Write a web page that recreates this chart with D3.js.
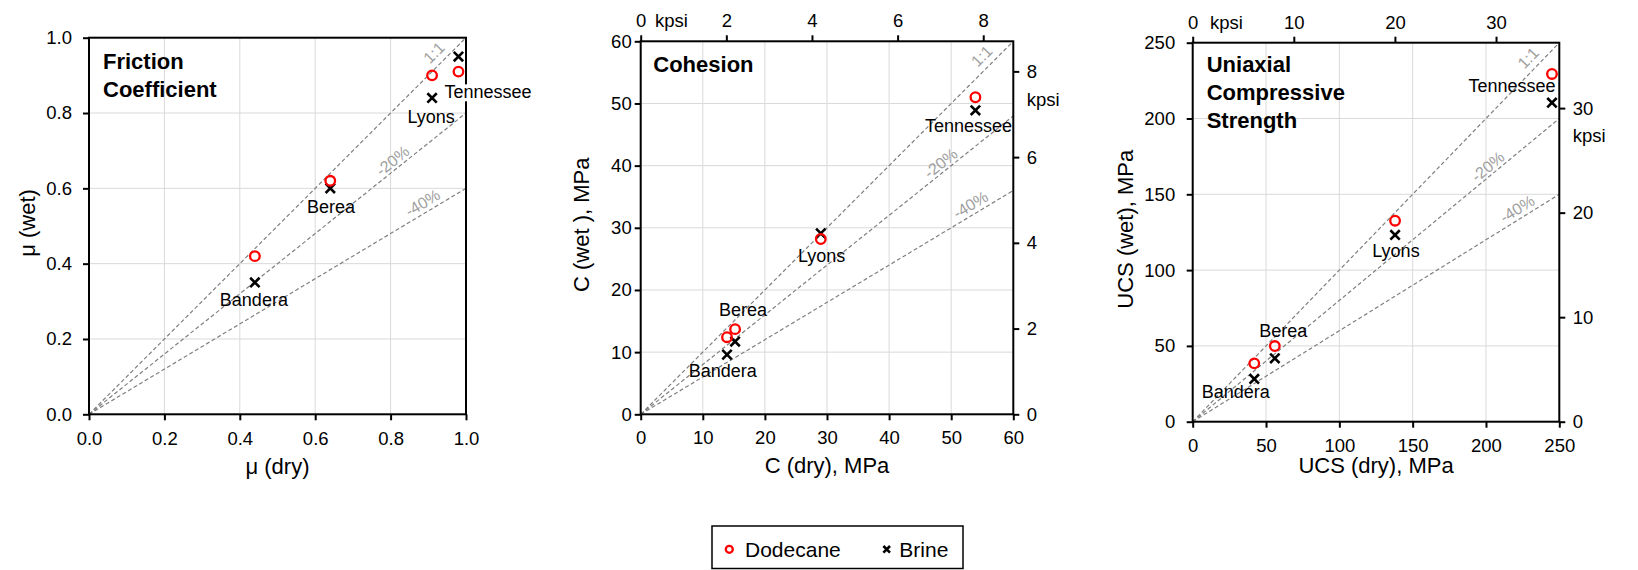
<!DOCTYPE html>
<html>
<head>
<meta charset="utf-8">
<script src="https://cdn.jsdelivr.net/npm/d3@7"></script>
<style>
    body { margin: 0; background: #fff; }
    text { font-family: "Liberation Sans", Arial, sans-serif; fill: #000; }
    .grid line { stroke: #d9d9d9; stroke-width: 1; }
    .axis path { display: none; }
    .axis line { stroke: #000; stroke-width: 2; }
    .axis text { font-size: 18.5px; }
    .frame { fill: none; stroke: #000; stroke-width: 2; }
    .refLine { stroke: #808080; stroke-width: 1.2; stroke-dasharray: 4,2.5; fill: none; }
    .refLabel { font-size: 16px; fill: #a0a0a0; }
    .axisTitle { font-size: 22px; }
    .panelTitle { font-size: 22px; font-weight: bold; }
    .rockLabel { font-size: 18px; }
    .unitLabel { font-size: 18.5px; }
    .dodecane { fill: none; stroke: #ff0000; stroke-width: 2.3; }
    .brine { fill: none; stroke: #000; stroke-width: 2.6; }
    .legendBox { fill: #fff; stroke: #000; stroke-width: 1.5; }
    .legendText { font-size: 21px; }
</style>
</head>
<body>
<script>
//rock names, same order as every value array below
var rocks = ["Bandera", "Berea", "Lyons", "Tennessee"];
var seriesNames = ["Dodecane", "Brine"];

//friction coefficient (dimensionless)
var frictionDry = [0.44, 0.64, 0.91, 0.98];
var frictionDodecane = [0.42, 0.62, 0.90, 0.91];
var frictionBrine = [0.35, 0.60, 0.84, 0.95];
var frictionTicks = [0, 0.2, 0.4, 0.6, 0.8, 1.0];

//cohesion, MPa
var cohesionDry = [13.9, 15.2, 29.0, 53.9];
var cohesionDodecane = [12.4, 13.7, 28.2, 51.0];
var cohesionBrine = [9.6, 11.7, 29.1, 48.9];
var cohesionTicks = [0, 10, 20, 30, 40, 50, 60];
var cohesionKpsiTicks = [0, 2, 4, 6, 8];

//uniaxial compressive strength, MPa
var ucsDry = [42, 56, 138, 245];
var ucsDodecane = [38.5, 49.9, 132.6, 229.4];
var ucsBrine = [28.2, 41.8, 123.2, 210.4];
var ucsTicks = [0, 50, 100, 150, 200, 250];
var ucsKpsiTicks = [0, 10, 20, 30];

//reference lines: wet = ratio * dry
var refRatios = [1, 0.8, 0.6];
var refNames = ["1:1", "-20%", "-40%"];

var mpaPerKpsi = 6.895;

(function(){

    //layout for the three panels
    var panels = [
        {
            left: 89, right: 466, top: 37.7, bottom: 414.3,
            dry: frictionDry, dod: frictionDodecane, brine: frictionBrine,
            ticks: frictionTicks, fmt: d3.format(".1f"), kpsiTicks: null,
            title: ["Friction", "Coefficient"], titleDx: 14, titleDy: 31.5,
            xTitle: "\u03bc (dry)", yTitle: "\u03bc (wet)",
            padLeft: 11, padBottom: 12, xTitleDy: 52, yTitleDx: -62,
            labels: [[-1, 23.5, "middle"], [0.7, 25, "middle"], [-1, 24.7, "middle"], [-14, 41.8, "start", true]]
        },
        {
            left: 640.7, right: 1013.3, top: 41.3, bottom: 414.3,
            dry: cohesionDry, dod: cohesionDodecane, brine: cohesionBrine,
            ticks: cohesionTicks, fmt: d3.format("d"), kpsiTicks: cohesionKpsiTicks,
            title: ["Cohesion"], titleDx: 12.6, titleDy: 30.4,
            xTitle: "C (dry), MPa", yTitle: "C (wet ), MPa",
            padLeft: 3, padBottom: 11, xTitleDy: 51, yTitleDx: -59,
            kpsiTopDx: 14.3, kpsiRightDy: 35,
            labels: [[-4.3, 22.1, "middle"], [7.9, -25.6, "middle"], [0.9, 28.3, "middle"], [-7, 21.4, "middle"]]
        },
        {
            left: 1192.7, right: 1559.3, top: 42.7, bottom: 421.7,
            dry: ucsDry, dod: ucsDodecane, brine: ucsBrine,
            ticks: ucsTicks, fmt: d3.format("d"), kpsiTicks: ucsKpsiTicks,
            title: ["Uniaxial", "Compressive", "Strength"], titleDx: 14, titleDy: 29.6,
            xTitle: "UCS (dry), MPa", yTitle: "UCS (wet), MPa",
            padLeft: 11.5, padBottom: 11, xTitleDy: 43.3, yTitleDx: -67.7,
            kpsiTopDx: 17.3, kpsiRightDy: 33.4,
            labels: [[-18.6, 19.4, "middle"], [8.5, -21.6, "middle"], [0.9, 22.4, "middle"], [-40, -11, "middle"]]
        }
    ];

    //where the 1:1 / -20% / -40% labels sit along their lines
    var refLabelFrac = [0.915, 0.805, 0.885],
        refLabelLift = [17, 11, 11.5];

    var svg = d3.select("body")
        .append("svg")
        .attr("width", 1638)
        .attr("height", 570);

    panels.forEach(function(p){
        drawPanel(svg, p);
    });

    drawLegend(svg);


    function drawPanel(svg, p){
        var max = p.ticks[p.ticks.length - 1];

        var x = d3.scaleLinear().domain([0, max]).range([p.left, p.right]);
        var y = d3.scaleLinear().domain([0, max]).range([p.bottom, p.top]);

        var g = svg.append("g").attr("class", "panel");

        //gridlines
        var grid = g.append("g").attr("class", "grid");
        grid.selectAll(".vGrid")
            .data(p.ticks)
            .enter()
            .append("line")
            .attr("x1", function(d){ return x(d); })
            .attr("x2", function(d){ return x(d); })
            .attr("y1", p.top)
            .attr("y2", p.bottom);
        grid.selectAll(".hGrid")
            .data(p.ticks)
            .enter()
            .append("line")
            .attr("y1", function(d){ return y(d); })
            .attr("y2", function(d){ return y(d); })
            .attr("x1", p.left)
            .attr("x2", p.right);

        //reference lines through the origin
        g.selectAll(".refLine")
            .data(refRatios)
            .enter()
            .append("line")
            .attr("class", "refLine")
            .attr("x1", x(0))
            .attr("y1", y(0))
            .attr("x2", x(max))
            .attr("y2", function(r){ return y(r * max); });

        g.selectAll(".refLabel")
            .data(refRatios)
            .enter()
            .append("text")
            .attr("class", "refLabel")
            .attr("text-anchor", "middle")
            .attr("dy", "0.35em")
            .attr("transform", function(r, i){
                var xd = refLabelFrac[i] * max;
                var px = x(xd),
                    py = y(r * xd) - refLabelLift[i];
                var ang = -Math.atan2(y(0) - y(r * max), x(max) - x(0)) * 180 / Math.PI;
                return "translate(" + px + "," + py + ") rotate(" + ang + ")";
            })
            .text(function(r, i){ return refNames[i]; });

        //axes
        g.append("g")
            .attr("class", "axis")
            .attr("transform", "translate(" + p.left + ",0)")
            .call(d3.axisLeft(y).tickValues(p.ticks).tickFormat(p.fmt)
                .tickSize(6).tickSizeOuter(0).tickPadding(p.padLeft));

        g.append("g")
            .attr("class", "axis")
            .attr("transform", "translate(0," + p.bottom + ")")
            .call(d3.axisBottom(x).tickValues(p.ticks).tickFormat(p.fmt)
                .tickSize(6).tickSizeOuter(0).tickPadding(p.padBottom));

        if (p.kpsiTicks){
            var kMax = max / mpaPerKpsi;
            var kx = d3.scaleLinear().domain([0, kMax]).range([p.left, p.right]);
            var ky = d3.scaleLinear().domain([0, kMax]).range([p.bottom, p.top]);

            g.append("g")
                .attr("class", "axis")
                .attr("transform", "translate(0," + p.top + ")")
                .call(d3.axisTop(kx).tickValues(p.kpsiTicks)
                    .tickSize(6).tickSizeOuter(0).tickPadding(8));

            g.append("g")
                .attr("class", "axis")
                .attr("transform", "translate(" + p.right + ",0)")
                .call(d3.axisRight(ky).tickValues(p.kpsiTicks)
                    .tickSize(6).tickSizeOuter(0).tickPadding(7.5));

            //unit labels for the kpsi axes
            g.append("text")
                .attr("class", "unitLabel")
                .attr("x", p.left + p.kpsiTopDx)
                .attr("y", p.top - 14)
                .text("kpsi");

            var lastK = p.kpsiTicks[p.kpsiTicks.length - 1];
            g.append("text")
                .attr("class", "unitLabel")
                .attr("x", p.right + 13.5)
                .attr("y", ky(lastK) + p.kpsiRightDy)
                .text("kpsi");
        }

        //frame
        g.append("rect")
            .attr("class", "frame")
            .attr("x", p.left)
            .attr("y", p.top)
            .attr("width", p.right - p.left)
            .attr("height", p.bottom - p.top);

        //axis titles
        g.append("text")
            .attr("class", "axisTitle")
            .attr("text-anchor", "middle")
            .attr("x", (p.left + p.right) / 2)
            .attr("y", p.bottom + p.xTitleDy)
            .attr("dy", "0.35em")
            .text(p.xTitle);

        g.append("text")
            .attr("class", "axisTitle")
            .attr("text-anchor", "middle")
            .attr("transform", "translate(" + (p.left + p.yTitleDx) + "," + ((p.top + p.bottom) / 2 - 3) + ") rotate(-90)")
            .attr("dy", "0.35em")
            .text(p.yTitle);

        //panel title
        g.selectAll(".panelTitle")
            .data(p.title)
            .enter()
            .append("text")
            .attr("class", "panelTitle")
            .attr("x", p.left + p.titleDx)
            .attr("y", function(d, i){ return p.top + p.titleDy + i * 27.6; })
            .text(function(d){ return d; });

        //brine crosses, then dodecane circles on top
        g.selectAll(".brine")
            .data(p.brine)
            .enter()
            .append("path")
            .attr("class", "brine")
            .attr("d", "M-4.7,-4.7L4.7,4.7M-4.7,4.7L4.7,-4.7")
            .attr("transform", function(d, i){
                return "translate(" + x(p.dry[i]) + "," + y(d) + ")";
            });

        g.selectAll(".dodecane")
            .data(p.dod)
            .enter()
            .append("circle")
            .attr("class", "dodecane")
            .attr("r", 4.8)
            .attr("cx", function(d, i){ return x(p.dry[i]); })
            .attr("cy", function(d){ return y(d); });

        //rock name labels, placed off the brine point
        rocks.forEach(function(name, i){
            var lab = p.labels[i];
            var t = g.append("text")
                .attr("class", "rockLabel")
                .attr("text-anchor", lab[2])
                .attr("x", x(p.dry[i]) + lab[0])
                .attr("y", y(p.brine[i]) + lab[1])
                .text(name);
            if (lab[3]){
                var bb = t.node().getBBox();
                g.insert("rect", function(){ return t.node(); })
                    .attr("x", bb.x - 1)
                    .attr("y", bb.y + 2)
                    .attr("width", bb.width + 2)
                    .attr("height", bb.height - 3)
                    .attr("fill", "#fff");
            }
        });
    };

    function drawLegend(svg){
        var lg = svg.append("g").attr("class", "legend");

        lg.append("rect")
            .attr("class", "legendBox")
            .attr("x", 712)
            .attr("y", 526)
            .attr("width", 251)
            .attr("height", 42.5);

        var itemX = [729.3, 886.7];

        lg.append("circle")
            .attr("class", "dodecane")
            .attr("cx", itemX[0])
            .attr("cy", 549.3)
            .attr("r", 3.5);

        lg.append("path")
            .attr("class", "brine")
            .attr("d", "M-3.3,-3.3L3.3,3.3M-3.3,3.3L3.3,-3.3")
            .attr("transform", "translate(" + itemX[1] + ",549.3)");

        lg.selectAll(".legendText")
            .data(seriesNames)
            .enter()
            .append("text")
            .attr("class", "legendText")
            .attr("x", function(d, i){ return itemX[i] + (i == 0 ? 15.7 : 12.6); })
            .attr("y", 549.3)
            .attr("dy", "0.35em")
            .text(function(d){ return d; });
    };

})();
</script>
</body>
</html>
